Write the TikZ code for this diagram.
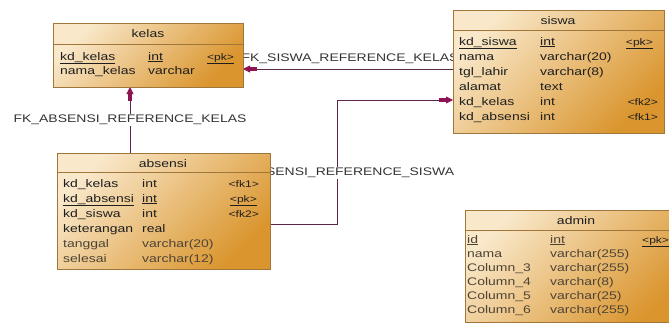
\documentclass[tikz,border=0pt]{standalone}
\usepackage{fontspec}
\setmainfont{Liberation Sans}[FakeStretch=1.27]
\usetikzlibrary{arrows.meta}
\definecolor{boxlight}{HTML}{F9E8CA}
\definecolor{boxdark}{HTML}{DA952E}
\definecolor{boxborder}{HTML}{A0763A}
\definecolor{linecol}{HTML}{5A2648}
\definecolor{tipcol}{HTML}{8C1452}
\definecolor{txt}{HTML}{1E1E1E}
\definecolor{txtgrey}{HTML}{4E4436}
\definecolor{lbl}{HTML}{333333}
\tikzset{
  tablebox/.style={draw=boxborder, line width=0.9pt, top color=boxlight, bottom color=boxdark, shading angle=45, inner sep=0pt, outer sep=0pt, anchor=north west},
  framebox/.style={inner sep=0pt, outer sep=0pt, anchor=north west},
  sepline/.style={draw=boxborder, line width=0.9pt},
  hdr/.style={anchor=base, inner sep=0pt, text=txt, font=\fontsize{11}{13}\selectfont},
  nm/.style={anchor=base west, inner sep=0pt, text=txt, font=\fontsize{11}{13}\selectfont},
  nmg/.style={nm, text=txtgrey},
  ky/.style={anchor=base west, inner sep=0pt, text=txt, font=\fontsize{9.5}{11}\selectfont},
  kyr/.style={ky, anchor=base east},
  conn/.style={draw=linecol, line width=0.8pt},
  fktip/.style={-{Rectangle[length=7pt,width=4.5pt,color=tipcol,sep=0pt] Triangle[length=7pt,width=7pt,color=tipcol]}},
  fklabel/.style={fill=white, inner sep=1pt, text=lbl, font=\fontsize{11}{13}\selectfont}
}
\newcommand\rt[5]{\node[#1] (#2) at (#3,#4) {#5};}
\begin{document}
\begin{tikzpicture}[x=1pt, y=-1pt]
\useasboundingbox (0,0) rectangle (669,325);
\clip (0,0) rectangle (669,325);
\fill[white] (0,0) rectangle (669,325);

% table frames as named nodes (positions only)
\path (53,23) node[framebox, minimum width=190pt, minimum height=64pt] (kelas) {};
\path (453,10) node[framebox, minimum width=211pt, minimum height=123pt] (siswa) {};
\path (57,153) node[framebox, minimum width=213pt, minimum height=116pt] (absensi) {};
\path (465,210) node[framebox, minimum width=222pt, minimum height=112pt] (admin) {};

% connectors
\draw[conn, fktip] ([yshift=2.5pt]siswa.west) -- ([yshift=2.5pt]siswa.west -| kelas.east);
\coordinate (v1) at (130,120);
\draw[conn, fktip] (v1 |- absensi.north) -- (v1 |- kelas.south);
\coordinate (b1) at (337,224);
\coordinate (t1) at (337,100);
\draw[conn, fktip] (b1 -| absensi.east) -- (b1) -- (t1) [rounded corners=6pt] -- (t1 -| siswa.west);

% connector labels
\node[fklabel] (l1) at (350,59) {FK\_SISWA\_REFERENCE\_KELAS};
\node[fklabel] (l2) at (v1) {FK\_ABSENSI\_REFERENCE\_KELAS};
\node[fklabel] (l3) at (338,173) {FK\_ABSENSI\_REFERENCE\_SISWA};

% table boxes
\path (53,23) node[tablebox, minimum width=190pt, minimum height=64pt] (kelasB) {};
\path (453,10) node[tablebox, minimum width=211pt, minimum height=123pt] (siswaB) {};
\path (57,153) node[tablebox, minimum width=213pt, minimum height=116pt] (absensiB) {};
\path (465,210) node[tablebox, minimum width=222pt, minimum height=112pt] (adminB) {};
\draw[sepline] ([yshift=-21pt]kelasB.north west) -- ([yshift=-21pt]kelasB.north east);
\draw[sepline] ([yshift=-20pt]siswaB.north west) -- ([yshift=-20pt]siswaB.north east);
\draw[sepline] ([yshift=-19pt]absensiB.north west) -- ([yshift=-19pt]absensiB.north east);
\draw[sepline] ([yshift=-20pt]adminB.north west) -- ([yshift=-20pt]adminB.north east);

% kelas
\rt{hdr}{kh}{148}{37}{kelas}
\rt{nm}{k1a}{60}{60}{\underline{kd\_kelas}}
\rt{nm}{k1b}{148}{60}{\underline{int}}
\rt{ky}{k1c}{207}{60}{\underline{<pk>}}
\rt{nm}{k2a}{60}{74}{nama\_kelas}
\rt{nm}{k2b}{148}{74}{varchar}

% siswa
\rt{hdr}{sh}{558}{24}{siswa}
\rt{nm}{s1a}{459}{45}{\underline{kd\_siswa}}
\rt{nm}{s1b}{540}{45}{\underline{int}}
\rt{kyr}{s1c}{653}{45}{\underline{<pk>}}
\rt{nm}{s2a}{459}{60}{nama}
\rt{nm}{s2b}{540}{60}{varchar(20)}
\rt{nm}{s3a}{459}{75}{tgl\_lahir}
\rt{nm}{s3b}{540}{75}{varchar(8)}
\rt{nm}{s4a}{459}{90}{alamat}
\rt{nm}{s4b}{540}{90}{text}
\rt{nm}{s5a}{459}{105}{kd\_kelas}
\rt{nm}{s5b}{540}{105}{int}
\rt{kyr}{s5c}{658}{105}{<fk2>}
\rt{nm}{s6a}{459}{120}{kd\_absensi}
\rt{nm}{s6b}{540}{120}{int}
\rt{kyr}{s6c}{658}{120}{<fk1>}

% absensi
\rt{hdr}{ah}{163}{167}{absensi}
\rt{nm}{a1a}{63}{187}{kd\_kelas}
\rt{nm}{a1b}{142}{187}{int}
\rt{kyr}{a1c}{259}{187}{<fk1>}
\rt{nm}{a2a}{63}{202}{\underline{kd\_absensi}}
\rt{nm}{a2b}{142}{202}{\underline{int}}
\rt{kyr}{a2c}{257}{202}{\underline{<pk>}}
\rt{nm}{a3a}{63}{217}{kd\_siswa}
\rt{nm}{a3b}{142}{217}{int}
\rt{kyr}{a3c}{259}{217}{<fk2>}
\rt{nm}{a4a}{63}{232}{keterangan}
\rt{nm}{a4b}{142}{232}{real}
\rt{nmg}{a5a}{63}{247}{tanggal}
\rt{nmg}{a5b}{142}{247}{varchar(20)}
\rt{nmg}{a6a}{63}{262}{selesai}
\rt{nmg}{a6b}{142}{262}{varchar(12)}

% admin
\rt{hdr}{dh}{576}{224}{admin}
\rt{nmg}{d1a}{467}{243}{\underline{id}}
\rt{nmg}{d1b}{550}{243}{\underline{int}}
\rt{ky}{d1c}{642}{243}{\underline{<pk>}}
\rt{nmg}{d2a}{467}{257}{nama}
\rt{nmg}{d2b}{550}{257}{varchar(255)}
\rt{nmg}{d3a}{467}{271}{Column\_3}
\rt{nmg}{d3b}{550}{271}{varchar(255)}
\rt{nmg}{d4a}{467}{285}{Column\_4}
\rt{nmg}{d4b}{550}{285}{varchar(8)}
\rt{nmg}{d5a}{467}{299}{Column\_5}
\rt{nmg}{d5b}{550}{299}{varchar(25)}
\rt{nmg}{d6a}{467}{313}{Column\_6}
\rt{nmg}{d6b}{550}{313}{varchar(255)}
\end{tikzpicture}
\end{document}
